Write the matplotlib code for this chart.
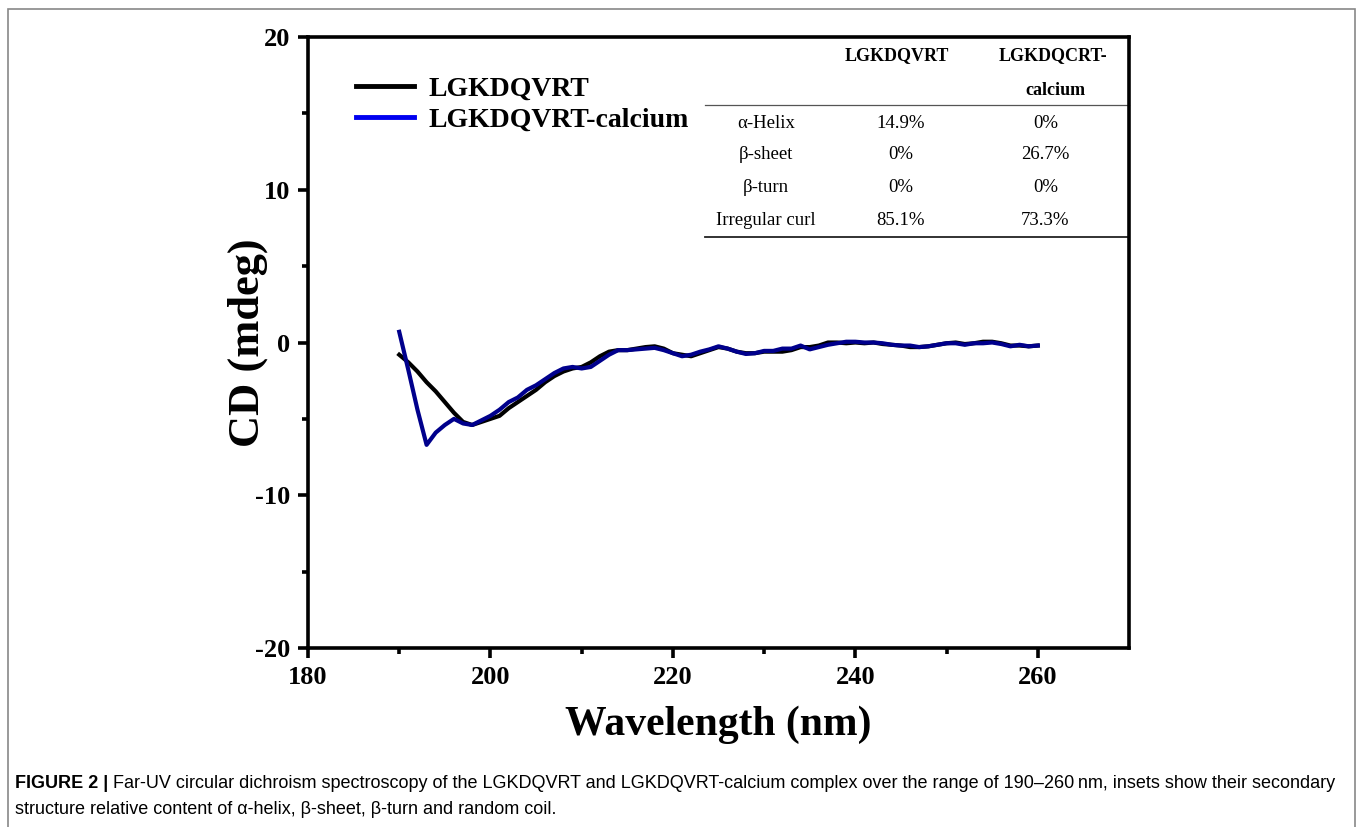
import numpy as np
import matplotlib
matplotlib.use("Agg")
import matplotlib.pyplot as plt
from matplotlib.lines import Line2D
from matplotlib.patches import Rectangle

plt.rcParams["axes.unicode_minus"] = False

# ---- CD spectra (1 nm steps) ----
wavelength = np.arange(190, 261)
cd_peptide = [
    -0.8, -1.3, -1.9, -2.6, -3.2, -3.9, -4.6, -5.2, -5.4, -5.2,
    -5.0, -4.8, -4.3, -3.9, -3.5, -3.1, -2.6, -2.2, -1.9, -1.7,
    -1.6, -1.3, -0.9, -0.6, -0.5, -0.5, -0.4, -0.3, -0.25, -0.4,
    -0.7, -0.8, -0.9, -0.7, -0.5, -0.3, -0.4, -0.6, -0.7, -0.7,
    -0.6, -0.6, -0.6, -0.5, -0.3, -0.3, -0.2, 0.0, 0.0, -0.05,
    0.0, -0.05, 0.0, -0.1, -0.15, -0.2, -0.3, -0.3, -0.25, -0.15,
    -0.05, 0.0, -0.1, -0.05, 0.05, 0.05, -0.05, -0.2, -0.2, -0.25,
    -0.2,
]
cd_calcium = [
    0.7, -1.8, -4.4, -6.7, -5.9, -5.4, -5.0, -5.3, -5.4, -5.1,
    -4.8, -4.4, -3.9, -3.6, -3.1, -2.8, -2.4, -2.0, -1.7, -1.6,
    -1.7, -1.6, -1.2, -0.8, -0.5, -0.5, -0.45, -0.4, -0.35, -0.5,
    -0.7, -0.9, -0.8, -0.6, -0.45, -0.25, -0.4, -0.6, -0.75, -0.7,
    -0.55, -0.55, -0.4, -0.4, -0.2, -0.45, -0.3, -0.15, -0.05, 0.05,
    0.05, 0.0, 0.0, -0.05, -0.15, -0.2, -0.2, -0.3, -0.25, -0.15,
    -0.05, -0.05, -0.15, -0.05, -0.05, 0.0, -0.1, -0.25, -0.15, -0.25,
    -0.2,
]

# ---- inset table ----
struct_names = ["α-Helix", "β-sheet", "β-turn", "Irregular curl"]
pct_peptide = ["14.9%", "0%", "0%", "85.1%"]
pct_calcium = ["0%", "26.7%", "0%", "73.3%"]

caption_1 = ("Far-UV circular dichroism spectroscopy of the LGKDQVRT and LGKDQVRT-calcium complex "
             "over the range of 190–260\u2009nm, insets show their secondary")
caption_2 = "structure relative content of α-helix, β-sheet, β-turn and random coil."

serif = ["Liberation Serif", "DejaVu Serif"]

fig = plt.figure(figsize=(13.6, 8.27), dpi=100)
ax = fig.add_axes([308 / 1360, 1 - 648 / 827, 821 / 1360, 611 / 827])

ax.plot(wavelength, cd_peptide, color="black", lw=3.0, label="LGKDQVRT")
ax.plot(wavelength, cd_calcium, color="#00008c", lw=3.0, label="LGKDQVRT-calcium")

ax.set_xlim(180, 270)
ax.set_ylim(-20, 20)
ax.set_xticks([180, 200, 220, 240, 260])
ax.set_xticks(np.arange(190, 270, 20), minor=True)
ax.set_yticks([-20, -10, 0, 10, 20])
ax.set_yticks([-15, -5, 5, 15], minor=True)
for s in ax.spines.values():
    s.set_linewidth(2.6)
ax.tick_params(which="major", length=7, width=2.6, direction="out", pad=6)
ax.tick_params(which="minor", length=4, width=2.6, direction="out")
for lab in ax.get_xticklabels() + ax.get_yticklabels():
    lab.set_fontfamily(serif)
    lab.set_fontweight("bold")
    lab.set_fontsize(19)

ax.set_xlabel("Wavelength (nm)", family=serif, weight="bold", fontsize=30, labelpad=12)
ax.set_ylabel("CD (mdeg)", family=serif, weight="bold", fontsize=32)
ax.yaxis.set_label_coords(-0.049, 0.5)

handles = [Line2D([], [], color="black", lw=3.5), Line2D([], [], color="#0000f0", lw=3.5)]
ax.legend(handles, ["LGKDQVRT", "LGKDQVRT-calcium"], loc="upper left",
          bbox_to_anchor=(0.028, 0.977), frameon=False, handlelength=2.1,
          handletextpad=0.5, labelspacing=0.2,
          prop={"family": serif, "weight": "bold", "size": 20})

# inset table drawn in axes coordinates
tr = ax.transAxes
ax.text(0.717, 0.970, "LGKDQVRT", transform=tr, ha="center", va="center",
        family=serif, weight="bold", fontsize=13)
ax.text(0.907, 0.970, "LGKDQCRT-", transform=tr, ha="center", va="center",
        family=serif, weight="bold", fontsize=13)
ax.text(0.910, 0.913, "calcium", transform=tr, ha="center", va="center",
        family=serif, weight="bold", fontsize=13)
ax.plot([0.4836, 1.0], [0.889, 0.889], transform=tr, color="#555555", lw=0.9, clip_on=False)
row_y = [0.859, 0.807, 0.753, 0.700]
for name, a, b, y in zip(struct_names, pct_peptide, pct_calcium, row_y):
    ax.text(0.558, y, name, transform=tr, ha="center", va="center", family=serif, fontsize=13.5)
    ax.text(0.722, y, a, transform=tr, ha="center", va="center", family=serif, fontsize=13.5)
    ax.text(0.898, y, b, transform=tr, ha="center", va="center", family=serif, fontsize=13.5)
ax.plot([0.4836, 1.0], [0.673, 0.673], transform=tr, color="#222222", lw=1.3, clip_on=False)

# caption and page frame
fig.patches.append(Rectangle((8 / 1360, -0.05), 1347 / 1360, 1.05 - 9 / 827,
                             transform=fig.transFigure, fill=False,
                             edgecolor="#888888", lw=1.2))
cap_font = ["Liberation Sans", "DejaVu Sans"]
head = fig.text(15 / 1360, 1 - 784 / 827, "FIGURE 2 |", family=cap_font, weight="bold",
                fontsize=13, va="center", ha="left")
bb = head.get_window_extent(renderer=fig.canvas.get_renderer())
fig.text((bb.x1 + 5) / 1360, 1 - 784 / 827, caption_1, family=cap_font, fontsize=13,
         va="center", ha="left")
fig.text(15 / 1360, 1 - 809 / 827, caption_2, family=cap_font, fontsize=13,
         va="center", ha="left")

fig.savefig("out.png", dpi=100)
